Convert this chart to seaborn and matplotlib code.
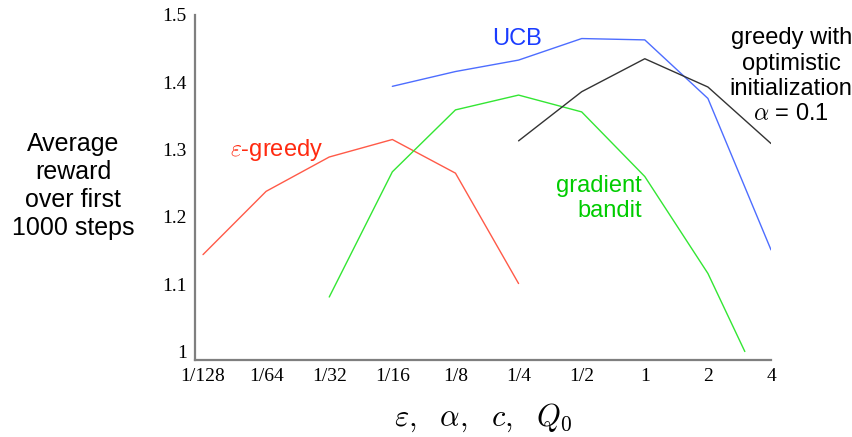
import numpy as np
import pandas as pd
import matplotlib
matplotlib.use("Agg")
import matplotlib.pyplot as plt
import seaborn as sns

# parameter values as powers of two (1/128 ... 4)
tick_pos = [-7, -6, -5, -4, -3, -2, -1, 0, 1, 2]
tick_labels = ["1/128", "1/64", "1/32", "1/16", "1/8", "1/4", "1/2", "1", "2", "4"]

eps_x = [-7, -6, -5, -4, -3, -2]
eps_y = [1.144, 1.238, 1.289, 1.315, 1.265, 1.101]

grad_x = [-5, -4, -3, -2, -1, 0, 1, np.log2(3)]
grad_y = [1.081, 1.267, 1.359, 1.381, 1.356, 1.260, 1.116, 1.0]

ucb_x = [-4, -3, -2, -1, 0, 1, 2]
ucb_y = [1.394, 1.416, 1.433, 1.465, 1.463, 1.376, 1.151]

opt_x = [-2, -1, 0, 1, 2]
opt_y = [1.313, 1.386, 1.435, 1.393, 1.309]

df = pd.concat([
    pd.DataFrame({"x": eps_x, "y": eps_y, "alg": "eps"}),
    pd.DataFrame({"x": grad_x, "y": grad_y, "alg": "grad"}),
    pd.DataFrame({"x": ucb_x, "y": ucb_y, "alg": "ucb"}),
    pd.DataFrame({"x": opt_x, "y": opt_y, "alg": "opt"}),
])

line_colors = {"eps": "#ff5a48", "grad": "#33e633", "ucb": "#4d6dff", "opt": "#333333"}

sns.set_style("white")
plt.rcParams["mathtext.fontset"] = "cm"
plt.rcParams["text.color"] = "black"

fig = plt.figure(figsize=(8.53, 4.37), dpi=100)
ax = fig.add_axes([0.2286, 0.1762, 0.6753, 0.7895])

sns.lineplot(data=df, x="x", y="y", hue="alg", palette=line_colors,
             legend=False, linewidth=1.0, ax=ax, estimator=None, sort=False)

ax.set_xlim(-7.127, 2.0)
ax.set_ylim(0.9874, 1.5)
ax.set_xticks(tick_pos)
ax.set_xticklabels(tick_labels)
ax.set_yticks([1, 1.1, 1.2, 1.3, 1.4, 1.5])
ax.set_yticklabels(["1", "1.1", "1.2", "1.3", "1.4", "1.5"])
for lab in ax.get_xticklabels() + ax.get_yticklabels():
    lab.set_family("Liberation Serif")
    lab.set_fontsize(14)
    lab.set_color("black")
ax.tick_params(direction="in", length=5, width=1.2, color="#7f7f7f", pad=6)
sns.despine(ax=ax)
for s in ["left", "bottom"]:
    ax.spines[s].set_color("#7f7f7f")
    ax.spines[s].set_linewidth(1.6)

ax.set_xlabel(r"$\varepsilon,\ \ \alpha,\ \ c,\ \ Q_0$", fontsize=22, labelpad=12, color="black")
ax.set_ylabel("")

lbl = dict(family="Liberation Sans", fontsize=17)
ax.text(-5.84, 1.299, r"$\varepsilon$-greedy", color="#ff2a10", ha="center", va="center", **lbl)
ax.text(-2.02, 1.464, "UCB", color="#1a3cff", ha="center", va="center", **lbl)
ax.text(-0.05, 1.227, "gradient\nbandit", color="#00cc00", ha="right", va="center",
        linespacing=1.15, **lbl)
ax.text(2.32, 1.409, "greedy with\noptimistic\ninitialization\n" + r"$\alpha$ = 0.1",
        color="black", ha="center", va="center", linespacing=1.2, clip_on=False, **lbl)

fig.text(0.0856, 0.574, "Average\nreward\nover first\n1000 steps", ha="center", va="center",
         family="Liberation Sans", fontsize=18, linespacing=1.2, color="black")

fig.savefig("out.png", dpi=100)
